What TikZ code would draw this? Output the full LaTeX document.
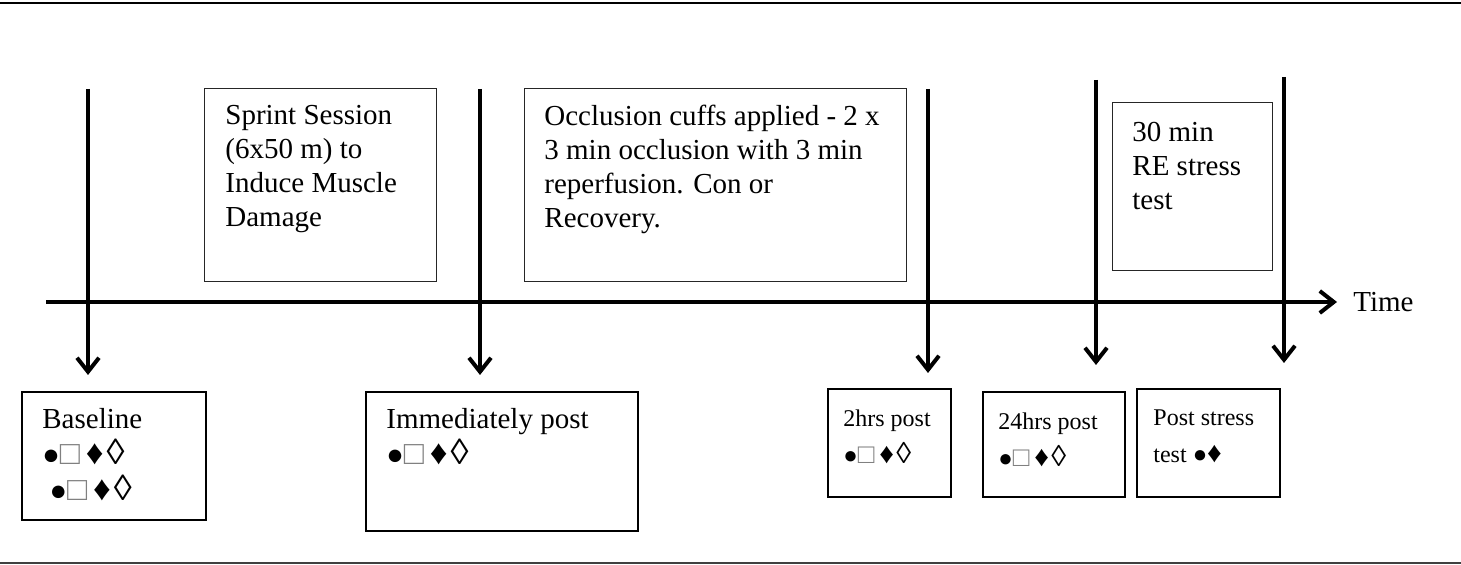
\documentclass[tikz,border=0pt]{standalone}
\usepackage{fontspec}
\setmainfont{Liberation Serif}
\usepackage{tikz}
\usetikzlibrary{arrows.meta,positioning}
\tikzstyle{fase}=[rectangle,draw=black!85,line width=0.5pt,inner sep=0,anchor=north west]
\tikzstyle{muestra}=[rectangle,draw=black,line width=1pt,inner sep=0,anchor=north west]
\tikzstyle{texto}=[align=left,inner sep=0,anchor=north west]
\tikzstyle{medio}=[texto,font=\fontsize{14.5}{18}\selectfont]
\tikzstyle{chico}=[texto,font=\fontsize{12}{18.5}\selectfont]
\tikzstyle{flecha}=[line width=2pt,-{Straight Barb[length=7pt,width=11pt]}]
\newcommand{\marcas}{●\textcolor{gray}{\scalebox{1.15}{□}}\hspace{0.2em}\scalebox{1.2}{♦}\hspace{0.1em}\scalebox{1.25}{◊}}

\begin{document}
\begin{tikzpicture}[x=0.5pt,y=-0.5pt,font=\fontsize{14.5}{17}\selectfont]
		\useasboundingbox (0,0) rectangle (1461,565);
		\draw[line width=1pt]		(0,3) -- (1461,3);
		\draw[line width=1pt,black!75]	(0,563) -- (1461,563);

		% fases arriba del eje
		\node[fase,minimum width=116pt,minimum height=96.5pt]	(sprint)	at (204,88)	{};
		\node[texto]	(sprinttxt)	at ([shift={(10.5pt,-8.5pt)}]sprint.north west)
				{Sprint Session\\(6x50 m) to\\Induce Muscle\\Damage};
		\node[fase,minimum width=191pt,minimum height=96.5pt]	(occl)	at (524,88)	{};
		\node[texto]	(occltxt)	at ([shift={(10pt,-8.5pt)}]occl.north west)
				{Occlusion cuffs applied - 2 x\\3 min occlusion with 3 min\\reperfusion. Con or\\Recovery.};
		\node[fase,minimum width=80pt,minimum height=84pt]	(retest)	at (1112,102)	{};
		\node[texto]	(retesttxt)	at ([shift={(10pt,-10pt)}]retest.north west)
				{30 min\\RE stress\\test};

		% eje de tiempo
		\coordinate	(t0)	at (46,302);
		\coordinate	(t1)	at (1337,302);
		\draw[flecha]	(t0) -- (t1);
		\node[inner sep=0,anchor=west]	(time)	[right=8pt of t1]	{Time};

		% momentos de medida
		\coordinate	(m1a)	at (88,89);
		\coordinate	(m1b)	at (88,375);
		\coordinate	(m2a)	at (480,89);
		\coordinate	(m2b)	at (480,375);
		\coordinate	(m3a)	at (928,89);
		\coordinate	(m3b)	at (928,373);
		\coordinate	(m4a)	at (1096,80);
		\coordinate	(m4b)	at (1096,365);
		\coordinate	(m5a)	at (1284,77);
		\coordinate	(m5b)	at (1284,363);
		\draw[flecha]	(m1a) -- (m1b);
		\draw[flecha]	(m2a) -- (m2b);
		\draw[flecha]	(m3a) -- (m3b);
		\draw[flecha]	(m4a) -- (m4b);
		\draw[flecha]	(m5a) -- (m5b);

		% muestras
		\node[muestra,minimum width=92pt,minimum height=64pt]	(base)	at (21,391)	{};
		\node[medio]	(basetxt)	at ([shift={(10.5pt,-8.5pt)}]base.north west)
				{Baseline\\\marcas\\\ \marcas};
		\node[muestra,minimum width=136pt,minimum height=69.5pt]	(inmed)	at (365,391)	{};
		\node[medio]	(inmedtxt)	at ([shift={(10.5pt,-8.5pt)}]inmed.north west)
				{Immediately post\\\marcas};
		\node[muestra,minimum width=61.5pt,minimum height=54pt]	(h2)	at (827,388)	{};
		\node[chico]	(h2txt)	at ([shift={(8pt,-10.5pt)}]h2.north west)
				{2hrs post\\\marcas};
		\node[muestra,minimum width=71pt,minimum height=52.5pt]	(h24)	at (982,391)	{};
		\node[chico]	(h24txt)	at ([shift={(8pt,-10.5pt)}]h24.north west)
				{24hrs post\\\marcas};
		\node[muestra,minimum width=71.5pt,minimum height=54pt]	(post)	at (1136,388)	{};
		\node[chico]	(posttxt)	at ([shift={(8.5pt,-10.5pt)}]post.north west)
				{Post stress\\test ●\scalebox{1.2}{♦}};
	\end{tikzpicture}
\end{document}
